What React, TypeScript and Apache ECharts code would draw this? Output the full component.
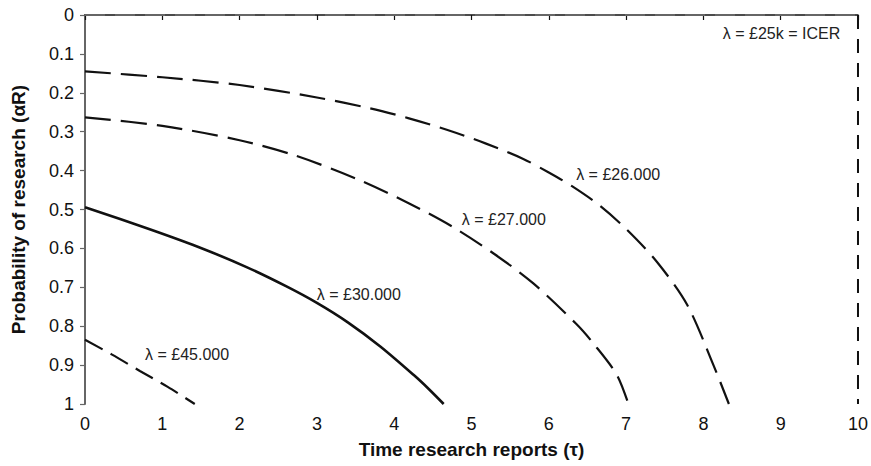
import React, { useEffect, useRef } from "react";
import * as echarts from "echarts";

// λ = £26.000
const tau26 = [0, 1, 2, 3, 3.69, 4.18, 4.68, 5.18, 5.67, 6.0, 6.3, 6.66, 7.0, 7.4, 7.79, 8.13, 8.33];
const alpha26 = [0.145, 0.16, 0.18, 0.212, 0.24, 0.265, 0.295, 0.33, 0.37, 0.405, 0.44, 0.49, 0.55, 0.635, 0.745, 0.9, 1];
// λ = £27.000
const tau27 = [0, 1, 2, 2.7, 3.5, 4.2, 4.76, 5.3, 5.8, 6.36, 6.58, 6.88, 7.03];
const alpha27 = [0.263, 0.285, 0.322, 0.36, 0.42, 0.485, 0.545, 0.615, 0.69, 0.795, 0.845, 0.925, 1];
// λ = £30.000
const tau30 = [0, 0.8, 1.45, 2.09, 2.6, 3.0, 3.4, 3.82, 4.25, 4.45, 4.64];
const alpha30 = [0.494, 0.548, 0.595, 0.648, 0.697, 0.74, 0.79, 0.852, 0.925, 0.962, 1];
// λ = £45.000
const tau45 = [0, 0.35, 0.71, 1.07, 1.42];
const alpha45 = [0.835, 0.873, 0.915, 0.956, 1];
// λ = £25k = ICER (boundary)
const tauIcerTop = [0, 10];
const alphaIcerTop = [0, 0];
const tauIcerSide = [10, 10];
const alphaIcerSide = [0, 1];

const curveLabels = ["λ = £26.000", "λ = £27.000", "λ = £30.000", "λ = £45.000", "λ = £25k = ICER"];
const labelTau = [6.354, 4.875, 2.999, 0.777, 9.77];
const labelAlpha = [0.411, 0.525, 0.719, 0.873, 0.047];
const labelAlign = ["left", "left", "left", "left", "right"];

const xTitle = "Time research reports (τ)";
const yTitle = "Probability of research (αR)";

const zip = (a: number[], b: number[]) => a.map((v, i) => [v, b[i]]);

const FONT = "'Liberation Sans', Arial, sans-serif";

export default function App() {
  const ref = useRef<HTMLDivElement>(null);
  useEffect(() => {
    if (!ref.current) return;
    const chart = echarts.init(ref.current, undefined, { renderer: "svg" });
    const lineSeries = (data: number[][], color: string, width: number, type: any, smooth = 0.3) => ({
      type: "line",
      data,
      showSymbol: false,
      symbol: "none",
      smooth,
      lineStyle: { color, width, type },
      silent: true,
    });
    chart.setOption({
      animation: false,
      backgroundColor: "#ffffff",
      grid: { left: 85, right: 13, top: 15, bottom: 62, containLabel: false },
      xAxis: {
        type: "value",
        min: 0,
        max: 10,
        interval: 1,
        name: xTitle,
        nameLocation: "middle",
        nameGap: 36,
        nameTextStyle: { fontFamily: FONT, fontWeight: "bold", fontSize: 19, color: "#111" },
        axisLine: { show: true, lineStyle: { color: "#111", width: 1.5 } },
        axisTick: { show: true, inside: false, length: 5, lineStyle: { color: "#111", width: 1.2 } },
        axisLabel: { fontFamily: FONT, fontSize: 18, color: "#111", margin: 11 },
        splitLine: { show: false },
      },
      yAxis: {
        type: "value",
        inverse: true,
        min: 0,
        max: 1,
        interval: 0.1,
        name: yTitle,
        nameLocation: "middle",
        nameGap: 57,
        nameRotate: 90,
        nameTextStyle: { fontFamily: FONT, fontWeight: "bold", fontSize: 19, color: "#111" },
        axisLine: { show: true, lineStyle: { color: "#666", width: 2 } },
        axisTick: { show: true, inside: false, length: 5, lineStyle: { color: "#666", width: 1.2 } },
        axisLabel: {
          fontFamily: FONT,
          fontSize: 18,
          color: "#111",
          margin: 11,
          formatter: (v: number) => String(Number(v.toFixed(1))),
        },
        splitLine: { show: false },
      },
      series: [
        lineSeries(zip(tauIcerTop, alphaIcerTop), "#666", 2, [20, 10], 0),
        lineSeries(zip(tauIcerSide, alphaIcerSide), "#111", 2, [14, 10], 0),
        lineSeries(zip(tau26, alpha26), "#111", 2.2, [26, 10]),
        lineSeries(zip(tau27, alpha27), "#111", 2.2, [26, 10]),
        lineSeries(zip(tau30, alpha30), "#111", 2.6, "solid"),
        lineSeries(zip(tau45, alpha45), "#111", 2.2, [20, 9]),
      ],
    });
    const graphic = curveLabels.map((t, i) => {
      const p = chart.convertToPixel({ gridIndex: 0 }, [labelTau[i], labelAlpha[i]]) as number[];
      return {
        type: "text",
        x: p[0],
        y: p[1],
        silent: true,
        style: {
          text: t,
          fontFamily: FONT,
          fontSize: 16,
          fill: "#222",
          textAlign: labelAlign[i],
          textVerticalAlign: "middle",
        },
      };
    });
    chart.setOption({ graphic });
    return () => chart.dispose();
  }, []);
  return <div ref={ref} style={{ width: 871, height: 466, position: "absolute", left: 0, top: 0 }} />;
}
